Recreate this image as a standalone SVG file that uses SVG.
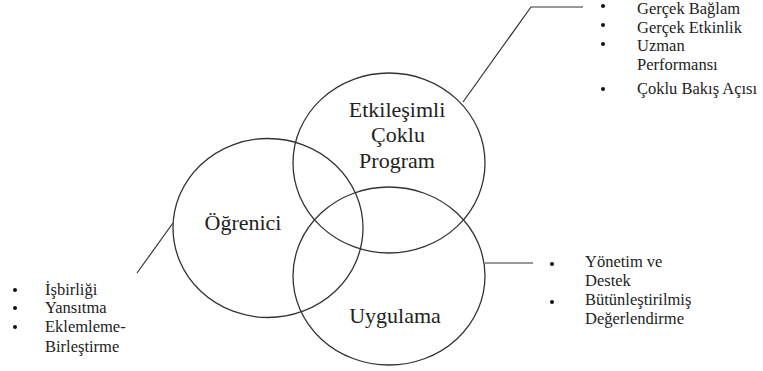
<svg xmlns="http://www.w3.org/2000/svg" width="763" height="371" viewBox="0 0 763 371">
<style>
.c{fill:none;stroke:#333;stroke-width:1.3}
.ln{fill:none;stroke:#333;stroke-width:1.2}
.b{fill:#111}
</style>
<rect width="763" height="371" fill="#fff"/>
<g id="connectors">
<polyline class="ln" points="463,102 531,7 583,7"/>
<line class="ln" x1="137" y1="273" x2="173" y2="223"/>
<line class="ln" x1="485" y1="263" x2="533" y2="263"/>
</g>
<g id="ogrenici">
<ellipse class="c" cx="268" cy="228" rx="95" ry="89.5"/>
<text x="243" y="230" font-family="Liberation Serif" font-size="22" fill="#222" text-anchor="middle" style="font-family:'Liberation Serif'">Öğrenici</text>
</g>
<g id="etkilesimli">
<ellipse class="c" cx="389" cy="163" rx="96" ry="90"/>
<text x="397" y="117" font-family="Liberation Serif" font-size="22" fill="#222" text-anchor="middle" style="font-family:'Liberation Serif'">Etkileşimli</text>
<text x="398" y="142" font-family="Liberation Serif" font-size="22" fill="#222" text-anchor="middle" style="font-family:'Liberation Serif'">Çoklu</text>
<text x="397" y="168" font-family="Liberation Serif" font-size="22" fill="#222" text-anchor="middle" style="font-family:'Liberation Serif'">Program</text>
</g>
<g id="uygulama">
<ellipse class="c" cx="389" cy="276" rx="96" ry="89"/>
<text x="395" y="323" font-family="Liberation Serif" font-size="22" fill="#222" text-anchor="middle" style="font-family:'Liberation Serif'">Uygulama</text>
</g>
<g id="list-top">
<circle class="b" cx="603" cy="6" r="2"/>
<circle class="b" cx="603" cy="25" r="2"/>
<circle class="b" cx="603" cy="44" r="2"/>
<circle class="b" cx="603" cy="89" r="2"/>
<text x="637" y="14" font-family="Liberation Serif" font-size="16.5" fill="#222" style="font-family:'Liberation Serif'">Gerçek Bağlam</text>
<text x="637" y="33" font-family="Liberation Serif" font-size="16.5" fill="#222" style="font-family:'Liberation Serif'">Gerçek Etkinlik</text>
<text x="637" y="51" font-family="Liberation Serif" font-size="16.5" fill="#222" style="font-family:'Liberation Serif'">Uzman</text>
<text x="637" y="70" font-family="Liberation Serif" font-size="16.5" fill="#222" style="font-family:'Liberation Serif'">Performansı</text>
<text x="637" y="94" font-family="Liberation Serif" font-size="16.5" fill="#222" style="font-family:'Liberation Serif'">Çoklu Bakış Açısı</text>
</g>
<g id="list-left">
<circle class="b" cx="15" cy="290" r="2"/>
<circle class="b" cx="15" cy="308" r="2"/>
<circle class="b" cx="15" cy="327" r="2"/>
<text x="45" y="295" font-family="Liberation Serif" font-size="16.5" fill="#222" style="font-family:'Liberation Serif'">İşbirliği</text>
<text x="45" y="313" font-family="Liberation Serif" font-size="16.5" fill="#222" style="font-family:'Liberation Serif'">Yansıtma</text>
<text x="45" y="332" font-family="Liberation Serif" font-size="16.5" fill="#222" style="font-family:'Liberation Serif'">Eklemleme-</text>
<text x="45" y="352" font-family="Liberation Serif" font-size="16.5" fill="#222" style="font-family:'Liberation Serif'">Birleştirme</text>
</g>
<g id="list-right">
<circle class="b" cx="552" cy="264" r="2"/>
<circle class="b" cx="552" cy="302" r="2"/>
<text x="585" y="267" font-family="Liberation Serif" font-size="16.5" fill="#222" style="font-family:'Liberation Serif'">Yönetim ve</text>
<text x="585" y="286" font-family="Liberation Serif" font-size="16.5" fill="#222" style="font-family:'Liberation Serif'">Destek</text>
<text x="585" y="305" font-family="Liberation Serif" font-size="16.5" fill="#222" style="font-family:'Liberation Serif'">Bütünleştirilmiş</text>
<text x="585" y="324" font-family="Liberation Serif" font-size="16.5" fill="#222" style="font-family:'Liberation Serif'">Değerlendirme</text>
</g>
</svg>
